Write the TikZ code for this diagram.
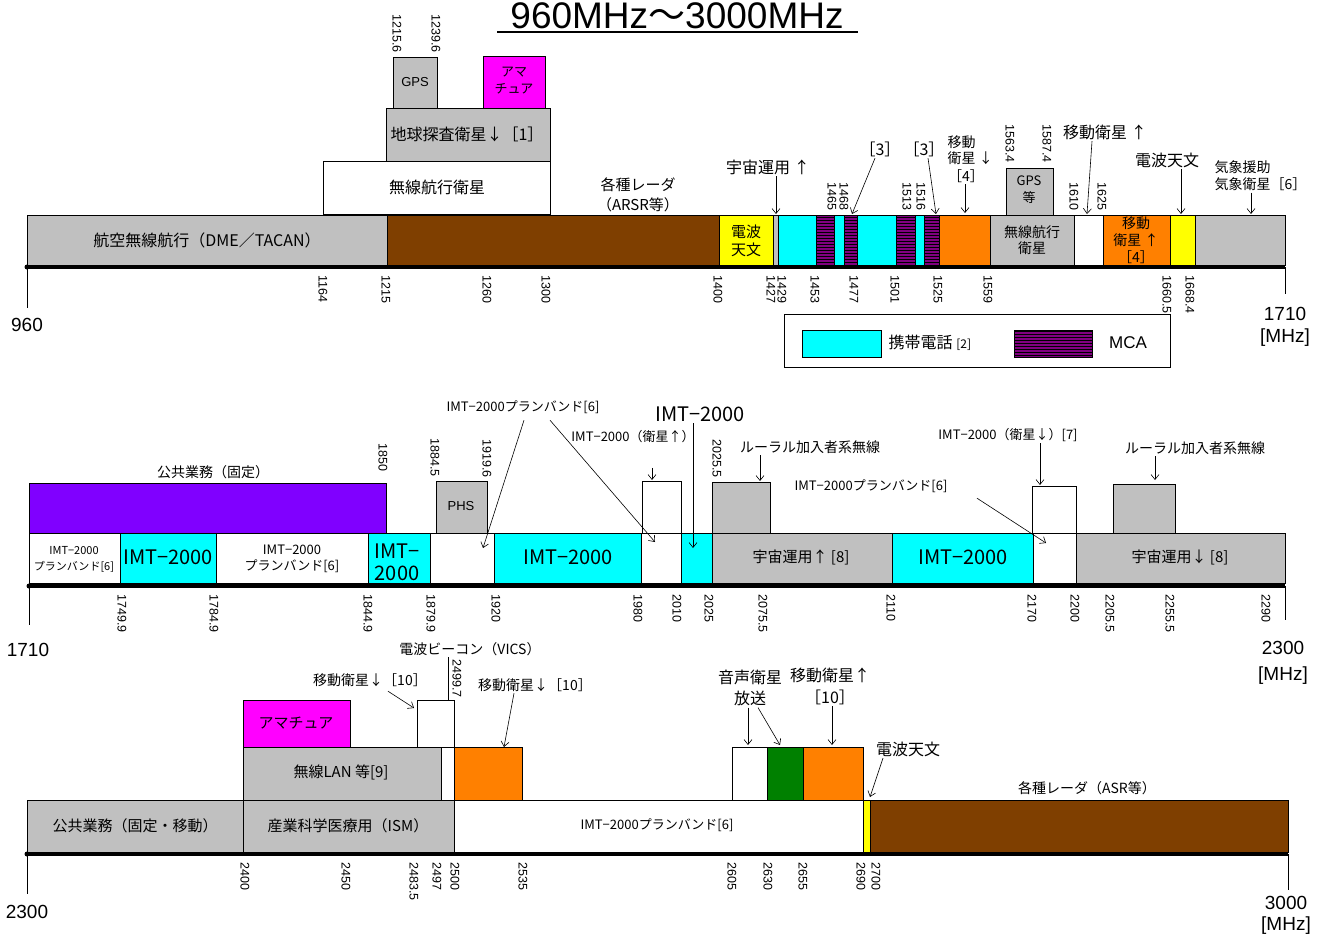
\documentclass[tikz,border=0pt]{standalone}
\usepackage{fontspec}
\setmainfont{Noto Sans CJK JP}
\newfontfamily\numfont{Liberation Sans}
\usetikzlibrary{arrows.meta,patterns}
\definecolor{bgray}{HTML}{C0C0C0}
\definecolor{bbrown}{HTML}{7F3F00}
\definecolor{bcyan}{HTML}{00FFFF}
\definecolor{bmca}{HTML}{800080}
\definecolor{bviolet}{HTML}{8000FF}
\definecolor{bmagenta}{HTML}{FF00FF}
\definecolor{borange}{HTML}{FF8000}
\definecolor{bgreen}{HTML}{008000}
\definecolor{byellow}{HTML}{FFFF00}
\newcommand\fsz[2]{\fontsize{#1}{#2}\selectfont}
\tikzset{
  band/.style={draw=black, line width=0.7pt},
  mca/.style={band, preaction={fill=bmca}, pattern=horizontal lines, pattern color=black},
  axis/.style={line width=4.5pt},
  endtick/.style={line width=0.8pt},
  lbl/.style={inner sep=1.5pt, align=center, font=\fsz{16}{19}},
  num/.style={inner sep=0pt, rotate=-90, font=\numfont\fsz{12.5}{14}},
  arr/.style={-{Straight Barb[length=5pt,width=8pt]}, line width=0.6pt}
}
\begin{document}
\begin{tikzpicture}[x=1pt,y=-1pt]
\useasboundingbox (0,0) rectangle (1319,944);
% title
\node[inner sep=0pt, anchor=base, font=\fsz{37}{40}] (title) at (677,29) {{\numfont 960MHz}～{\numfont 3000MHz}};
\draw[line width=2.5pt] (497,32) -- (858,32);

% ---- 960 - 1710 ----
\draw[band, fill=bgray] (27,215) rectangle (387,265);
\draw[band, fill=bbrown] (387,215) rectangle (719,265);
\draw[band, fill=byellow] (719,215) rectangle (773,265);
\draw[band, fill=bgray] (773,215) rectangle (778,265);
\draw[band, fill=bcyan] (778,215) rectangle (816,265);
\draw[mca] (816,215) rectangle (834,265);
\draw[band, fill=bcyan] (834,215) rectangle (844,265);
\draw[mca] (844,215) rectangle (857,265);
\draw[band, fill=bcyan] (857,215) rectangle (896,265);
\draw[mca] (896,215) rectangle (915,265);
\draw[band, fill=bcyan] (915,215) rectangle (924,265);
\draw[mca] (924,215) rectangle (939,265);
\draw[band, fill=borange] (939,215) rectangle (990,265);
\draw[band, fill=bgray] (990,215) rectangle (1074,265);
\draw[band, fill=white] (1074,215) rectangle (1103,265);
\draw[band, fill=borange] (1103,215) rectangle (1170,265);
\draw[band, fill=byellow] (1170,215) rectangle (1195,265);
\draw[band, fill=bgray] (1195,215) rectangle (1285,265);
\draw[band, fill=white] (323,161) rectangle (550,214);
\draw[band, fill=bgray] (386,108) rectangle (550,161);
\draw[band, fill=bgray] (393,57) rectangle (437,108);
\draw[band, fill=bmagenta] (483,56) rectangle (545,108);
\draw[band, fill=bgray] (1006,168) rectangle (1053,215);
\draw[axis] (27,267) -- (1285,267);
\fill (27,267) circle (2.5pt);
\draw[endtick] (27,267) -- (27,308);
\draw[endtick] (1285,267) -- (1285,294);
\node[font=\numfont\fsz{19}{21}] (e960) at (27,325) {960};
\node[font=\numfont\fsz{19}{22}, align=center] (e1710) at (1285,327) {1710\\{}[MHz]};

\node[lbl] (dme) at (207,240) {航空無線航行（DME／TACAN）};
\node[lbl] (rnss) at (437,187) {無線航行衛星};
\node[lbl] (eess) at (467,134) {地球探査衛星↓［1］};
\node[lbl, font=\numfont\fsz{13}{15}] (gps) at (415,82) {GPS};
\node[lbl, font=\fsz{13}{17}] (ama1) at (514,81) {アマ\\チュア};
\node[lbl, font=\fsz{15}{20}] (radar1) at (638,195) {各種レーダ\\（ARSR等）};
\node[lbl, font=\fsz{15}{18}] (ra1) at (746,241) {電波\\天文};
\node[lbl, font=\fsz{14}{16}] (rnss2) at (1032,240) {無線航行\\衛星};
\node[lbl, font=\fsz{13}{17}] (gps2) at (1029,190) {GPS\\等};
\node[lbl, font=\fsz{14}{17}] (mssU4) at (1136,240) {移動\\衛星 ↑\\［4］};

\node[lbl] (uchu1) at (768,167) {宇宙運用 ↑};
\node[lbl] (mca3a) at (880,149) {［3］};
\node[lbl] (mca3b) at (924,149) {［3］};
\node[lbl, font=\fsz{14}{16}, align=left, anchor=west] (mssD) at (946,150) {移動\\衛星 ↓};
\node[lbl, font=\fsz{14}{16}] (mssD4) at (966,176) {［4］};
\node[lbl] (mssU) at (1105,132) {移動衛星 ↑};
\node[lbl] (ra2) at (1167,160) {電波天文};
\node[lbl, font=\fsz{14}{17}, align=left, anchor=west] (met) at (1213,176) {気象援助\\気象衛星［6］};
\coordinate (uchu1T) at (776,214);
\coordinate (mca3aT) at (852,214);
\coordinate (mca3bT) at (936,214);
\coordinate (mssDT) at (965,213);
\coordinate (mssUT) at (1087,214);
\coordinate (ra2T) at (1181,214);
\coordinate (metT) at (1251,214);
\draw[arr] (uchu1.south -| uchu1T) -- (uchu1T);
\draw[arr] ([xshift=-5pt]mca3a.south) -- (mca3aT);
\draw[arr] ([xshift=4pt]mca3b.south) -- (mca3bT);
\draw[arr] (mssD4.south -| mssDT) -- (mssDT);
\draw[arr] ([xshift=-13pt]mssU.south) -- (mssUT);
\draw[arr] (ra2.south -| ra2T) -- (ra2T);
\draw[arr] (met.south -| metT) -- (metT);

\node[num, anchor=east] (n12156) at (397,53) {1215.6};
\node[num, anchor=east] (n12396) at (436,53) {1239.6};
\node[num, anchor=east] (n1465) at (832,211) {1465};
\node[num, anchor=east] (n1468) at (844,211) {1468};
\node[num, anchor=east] (n1513) at (907,211) {1513};
\node[num, anchor=east] (n1516) at (921,211) {1516};
\node[num, anchor=east] (n15634) at (1010,163) {1563.4};
\node[num, anchor=east] (n15874) at (1047,163) {1587.4};
\node[num, anchor=east] (n1610) at (1074,211) {1610};
\node[num, anchor=east] (n1625) at (1102,211) {1625};
\node[num, anchor=west] (n1164) at (323,275) {1164};
\node[num, anchor=west] (n1215) at (386,275) {1215};
\node[num, anchor=west] (n1260) at (487,275) {1260};
\node[num, anchor=west] (n1300) at (546,275) {1300};
\node[num, anchor=west] (n1400) at (718,275) {1400};
\node[num, anchor=west] (n1427) at (771,275) {1427};
\node[num, anchor=west] (n1429) at (782,275) {1429};
\node[num, anchor=west] (n1453) at (815,275) {1453};
\node[num, anchor=west] (n1477) at (854,275) {1477};
\node[num, anchor=west] (n1501) at (895,275) {1501};
\node[num, anchor=west] (n1525) at (938,275) {1525};
\node[num, anchor=west] (n1559) at (988,275) {1559};
\node[num, anchor=west] (n16605) at (1167,275) {1660.5};
\node[num, anchor=west] (n16684) at (1190,275) {1668.4};

% legend
\draw[band, line width=0.8pt] (784,314) rectangle (1170,367);
\draw[band, fill=bcyan] (802,330) rectangle (881,357);
\node[lbl, anchor=west] (legcell) at (887,343) {携帯電話 {\fsz{12}{14}[2]}};
\draw[mca] (1014,330) rectangle (1092,357);
\node[font=\numfont\fsz{17}{19}] (legmca) at (1128,343) {MCA};

% ---- 1710 - 2300 ----
\draw[band, fill=white] (29,533) rectangle (120,583);
\draw[band, fill=bcyan] (120,533) rectangle (216,583);
\draw[band, fill=white] (216,533) rectangle (368,583);
\draw[band, fill=bcyan] (368,533) rectangle (430,583);
\draw[band, fill=white] (430,533) rectangle (494,583);
\draw[band, fill=bcyan] (494,533) rectangle (641,583);
\draw[band, fill=white] (641,533) rectangle (681,583);
\draw[band, fill=bcyan] (681,533) rectangle (712,583);
\draw[band, fill=bgray] (712,533) rectangle (892,583);
\draw[band, fill=bcyan] (892,533) rectangle (1033,583);
\draw[band, fill=white] (1033,533) rectangle (1076,583);
\draw[band, fill=bgray] (1076,533) rectangle (1285,583);
\draw[band, fill=bviolet] (29,483) rectangle (386,533);
\draw[band, fill=bgray] (436,481) rectangle (487,533);
\draw[band, fill=white] (642,481) rectangle (681,533);
\draw[band, fill=bgray] (712,482) rectangle (770,533);
\draw[band, fill=white] (1032,486) rectangle (1076,533);
\draw[band, fill=bgray] (1113,484) rectangle (1175,533);
\draw[axis] (29,586) -- (1285,586);
\fill (29,586) circle (2.5pt);
\draw[endtick] (29,586) -- (29,625);
\draw[endtick] (1285,586) -- (1285,620);
\node[font=\numfont\fsz{19}{21}] (s1710) at (28,650) {1710};
\node[font=\numfont\fsz{19}{26}, align=center] (e2300) at (1283,663) {2300\\{}[MHz]};

\node[lbl, font=\fsz{14}{17}] (pubfix) at (213,472) {公共業務（固定）};
\node[lbl, font=\fsz{11}{16}] (pb1) at (74,559) {IMT−2000\\プランバンド[6]};
\node[lbl, font=\fsz{20}{22}] (imt1) at (168,557) {IMT−2000};
\node[lbl, font=\fsz{13}{16}] (pb2) at (292,559) {IMT−2000\\プランバンド[6]};
\node[lbl, font=\fsz{20}{22}] (imt2) at (397,562) {IMT−\\2000};
\node[lbl, font=\fsz{20}{22}] (imt3) at (568,557) {IMT−2000};
\node[lbl, font=\fsz{15}{18}] (uchuU8) at (801,557) {宇宙運用↑ [8]};
\node[lbl, font=\fsz{20}{22}] (imt4) at (963,557) {IMT−2000};
\node[lbl, font=\fsz{15}{18}] (uchuD8) at (1180,557) {宇宙運用↓ [8]};
\node[lbl, font=\numfont\fsz{13}{15}] (phs) at (461,506) {PHS};

\node[lbl, font=\fsz{13}{16}] (pbA) at (523,407) {IMT−2000プランバンド[6]};
\node[lbl, font=\fsz{20}{22}] (imtTop) at (700,414) {IMT−2000};
\node[lbl, font=\fsz{13}{18}] (mssU7) at (633,448) {IMT−2000（衛星↑）\\[7]};
\node[lbl, font=\fsz{14}{17}] (rural1) at (810,447) {ルーラル加入者系無線};
\node[lbl, font=\fsz{13}{16}] (pbB) at (871,486) {IMT−2000プランバンド[6]};
\node[lbl, font=\fsz{13}{16}] (mssD7) at (1008,435) {IMT−2000（衛星↓）[7]};
\node[lbl, font=\fsz{14}{17}] (rural2) at (1195,448) {ルーラル加入者系無線};
\coordinate (pbAT1) at (483,548);
\coordinate (pbAT2) at (655,542);
\coordinate (imtTopT) at (693,548);
\coordinate (mssU7T) at (652,480);
\coordinate (rural1T) at (760,481);
\coordinate (pbBT) at (1046,543);
\coordinate (mssD7T) at (1040,485);
\coordinate (rural2T) at (1155,480);
\draw[arr] ([xshift=1pt,yshift=-5pt]pbA.south) -- (pbAT1);
\draw[arr] ([xshift=27pt,yshift=-5pt]pbA.south) -- (pbAT2);
\draw[arr] (imtTop.south -| imtTopT) -- (imtTopT);
\draw[arr] (mssU7.south -| mssU7T) -- (mssU7T);
\draw[arr] (rural1.south -| rural1T) -- (rural1T);
\draw[arr] ([xshift=106pt,yshift=-4pt]pbB.south) -- (pbBT);
\draw[arr] (mssD7.south -| mssD7T) -- (mssD7T);
\draw[arr] (rural2.south -| rural2T) -- (rural2T);

\node[num, anchor=east] (n1850) at (383,472) {1850};
\node[num, anchor=east] (n18845) at (435,477) {1884.5};
\node[num, anchor=east] (n19196) at (487,478) {1919.6};
\node[num, anchor=east] (n20255) at (717,478) {2025.5};
\node[num, anchor=west] (n17499) at (122,594) {1749.9};
\node[num, anchor=west] (n17849) at (214,594) {1784.9};
\node[num, anchor=west] (n18449) at (368,594) {1844.9};
\node[num, anchor=west] (n18799) at (431,594) {1879.9};
\node[num, anchor=west] (n1920) at (496,594) {1920};
\node[num, anchor=west] (n1980) at (638,594) {1980};
\node[num, anchor=west] (n2010) at (677,594) {2010};
\node[num, anchor=west] (n2025) at (709,594) {2025};
\node[num, anchor=west] (n20755) at (763,594) {2075.5};
\node[num, anchor=west] (n2110) at (891,594) {2110};
\node[num, anchor=west] (n2170) at (1032,594) {2170};
\node[num, anchor=west] (n2200) at (1075,594) {2200};
\node[num, anchor=west] (n22055) at (1110,594) {2205.5};
\node[num, anchor=west] (n22555) at (1170,594) {2255.5};
\node[num, anchor=west] (n2290) at (1266,594) {2290};

% ---- 2300 - 3000 ----
\draw[band, fill=bgray] (27,800) rectangle (243,852);
\draw[band, fill=bgray] (243,800) rectangle (454,852);
\draw[band, fill=white] (454,800) rectangle (863,852);
\draw[band, fill=byellow] (863,800) rectangle (870,852);
\draw[band, fill=bbrown] (870,800) rectangle (1288,852);
\draw[band, fill=bgray] (243,747) rectangle (441,800);
\draw[band, fill=white] (441,747) rectangle (454,800);
\draw[band, fill=borange] (454,747) rectangle (522,800);
\draw[band, fill=white] (732,747) rectangle (767,800);
\draw[band, fill=bgreen] (767,747) rectangle (803,800);
\draw[band, fill=borange] (803,747) rectangle (863,800);
\draw[band, fill=bmagenta] (243,700) rectangle (350,747);
\draw[band, fill=white] (417,700) rectangle (454,747);
\draw[axis] (27,854) -- (1288,854);
\fill (27,854) circle (2.5pt);
\draw[endtick] (27,854) -- (27,894);
\draw[endtick] (1288,854) -- (1288,890);
\node[font=\numfont\fsz{19}{21}] (s2300) at (27,912) {2300};
\node[font=\numfont\fsz{19}{21}, align=center] (e3000) at (1286,915) {3000\\{}[MHz]};

\node[lbl, font=\fsz{15}{18}] (pubmob) at (135,826) {公共業務（固定・移動）};
\node[lbl, font=\fsz{15}{18}] (ism) at (348,826) {産業科学医療用（ISM）};
\node[lbl, font=\fsz{13}{16}] (pbC) at (657,825) {IMT−2000プランバンド[6]};
\node[lbl, font=\fsz{15}{18}] (wlan) at (341,772) {無線LAN 等[9]};
\node[lbl, font=\fsz{15}{18}] (ama2) at (296,723) {アマチュア};
\node[lbl, font=\fsz{14}{17}] (vics) at (470,649) {電波ビーコン（VICS）};
\node[lbl, font=\fsz{14}{17}] (mssD10a) at (370,680) {移動衛星↓［10］};
\node[lbl, font=\fsz{14}{17}] (mssD10b) at (535,685) {移動衛星↓［10］};
\node[lbl, font=\fsz{16}{21}] (sdars) at (750,688) {音声衛星\\放送};
\node[lbl, font=\fsz{16}{22}] (mssU10) at (830,686) {移動衛星↑\\［10］};
\node[lbl] (ra3) at (908,749) {電波天文};
\node[lbl, font=\fsz{14}{17}] (radar2) at (1087,788) {各種レーダ（ASR等）};
\coordinate (vicsT) at (448,700);
\coordinate (mssD10aT) at (414,708);
\coordinate (mssD10bT) at (504,747);
\coordinate (sdarsT1) at (748,745);
\coordinate (sdarsT2) at (780,745);
\coordinate (mssU10T) at (832,745);
\coordinate (ra3T) at (870,797);
\draw[line width=0.6pt] (vics.south -| vicsT) -- (vicsT);
\draw[arr] ([xshift=18pt,yshift=-3pt]mssD10a.south) -- (mssD10aT);
\draw[arr] ([xshift=-21pt]mssD10b.south) -- (mssD10bT);
\draw[arr] (sdars.south -| sdarsT1) -- (sdarsT1);
\draw[arr] ([xshift=8pt]sdars.south) -- (sdarsT2);
\draw[arr] (mssU10.south -| mssU10T) -- (mssU10T);
\draw[arr] ([xshift=-25pt]ra3.south) -- (ra3T);

\node[num, anchor=east] (n24997) at (457,698) {2499.7};
\node[num, anchor=west] (n2400) at (245,862) {2400};
\node[num, anchor=west] (n2450) at (346,862) {2450};
\node[num, anchor=west] (n24835) at (414,862) {2483.5};
\node[num, anchor=west] (n2497) at (437,862) {2497};
\node[num, anchor=west] (n2500) at (455,862) {2500};
\node[num, anchor=west] (n2535) at (523,862) {2535};
\node[num, anchor=west] (n2605) at (732,862) {2605};
\node[num, anchor=west] (n2630) at (768,862) {2630};
\node[num, anchor=west] (n2655) at (803,862) {2655};
\node[num, anchor=west] (n2690) at (861,862) {2690};
\node[num, anchor=west] (n2700) at (876,862) {2700};
\end{tikzpicture}
\end{document}
